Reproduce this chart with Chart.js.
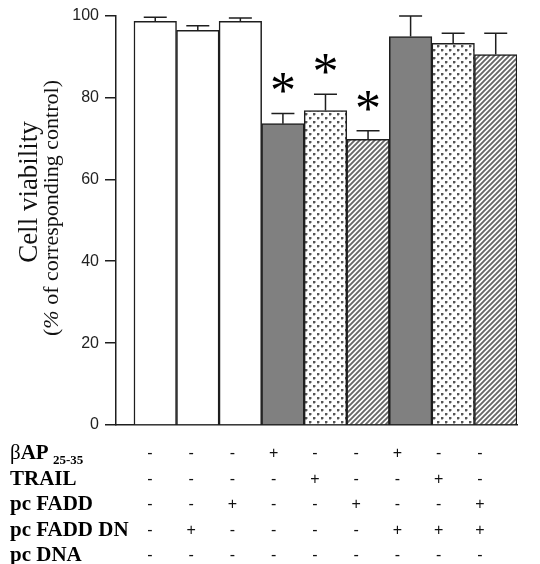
<!DOCTYPE html>
<html><head><meta charset="utf-8">
<script src="https://cdn.jsdelivr.net/npm/chart.js@4"></script>
<style>html,body{margin:0;padding:0;background:#fff}#wrap{width:540px;height:564px}</style>
</head><body><div id="wrap"><canvas id="c" width="540" height="564"></canvas></div>
<script>
// ---- data ----
const treatmentNames = ['βAP', 'TRAIL', 'pc FADD', 'pc FADD DN', 'pc DNA'];
const betaAP   = ['-','-','-','+','-','-','+','-','-'];
const trail    = ['-','-','-','-','+','-','-','+','-'];
const pcFADD   = ['-','-','+','-','-','+','-','-','+'];
const pcFADDDN = ['-','+','-','-','-','-','+','+','+'];
const pcDNA    = ['-','-','-','-','-','-','-','-','-'];
const viability = [98.6, 96.4, 98.6, 73.6, 76.8, 69.8, 94.9, 93.2, 90.5];
const sem       = [1.0, 1.1, 0.8, 2.5, 4.0, 2.1, 5.0, 2.5, 5.2];
const significant = [false, false, false, true, true, true, false, false, false];
const yTicks = [0, 20, 40, 60, 80, 100];

const tableRows = [betaAP, trail, pcFADD, pcFADDDN, pcDNA];

// ---- styles ----
function makeDots(){
  const s = 8;
  const c = document.createElement('canvas'); c.width = s; c.height = s;
  const g = c.getContext('2d');
  g.fillStyle = '#fff'; g.fillRect(0,0,s,s);
  g.fillStyle = '#555';
  g.fillRect(1,1,2,2); g.fillRect(5,5,2,2);
  g.fillStyle = '#b8b8b8';
  g.fillRect(3,1,1,2); g.fillRect(1,3,2,1); g.fillRect(7,5,1,2); g.fillRect(5,7,2,1);
  return g.createPattern(c,'repeat');
}
function makeHatch(){
  const s = 5;
  const c = document.createElement('canvas'); c.width = s; c.height = s;
  const g = c.getContext('2d');
  g.fillStyle = '#fff'; g.fillRect(0,0,s,s);
  g.strokeStyle = '#666'; g.lineWidth = 1.9;
  g.beginPath();
  g.moveTo(-1, s+1); g.lineTo(s+1, -1);
  g.moveTo(-1, 1); g.lineTo(1, -1);
  g.moveTo(s-1, s+1); g.lineTo(s+1, s-1);
  g.stroke();
  return g.createPattern(c,'repeat');
}
const dots = makeDots(), hatch = makeHatch();
const barFills = ['#ffffff','#ffffff','#ffffff','#808080',dots,hatch,'#808080',dots,hatch];

const ink = '#1e1e1e';

const errorBars = {
  id: 'errorBars',
  afterDatasetsDraw(chart){
    const ctx = chart.ctx, meta = chart.getDatasetMeta(0), y = chart.scales.y;
    ctx.save();
    ctx.strokeStyle = ink; ctx.lineWidth = 1.5;
    meta.data.forEach((bar, i) => {
      const top = y.getPixelForValue(viability[i] + sem[i]);
      ctx.beginPath();
      ctx.moveTo(bar.x, bar.y); ctx.lineTo(bar.x, top);
      ctx.moveTo(bar.x - 11.5, top); ctx.lineTo(bar.x + 11.5, top);
      ctx.stroke();
      if (significant[i]) {
        ctx.font = '52px "Liberation Serif"';
        ctx.textAlign = 'center'; ctx.textBaseline = 'alphabetic';
        ctx.fillStyle = '#000';
        ctx.fillText('*', bar.x, top - 5);
      }
    });
    ctx.restore();
  }
};

const annotations = {
  id: 'annotations',
  afterDraw(chart){
    const ctx = chart.ctx;
    ctx.save();
    // y title
    ctx.fillStyle = '#111';
    ctx.save();
    ctx.translate(37, 192); ctx.rotate(-Math.PI/2);
    ctx.textAlign = 'center'; ctx.textBaseline = 'alphabetic';
    ctx.font = '27px "Liberation Serif"';
    ctx.fillText('Cell viability', 0, 0);
    ctx.restore();
    ctx.save();
    ctx.translate(58, 208); ctx.rotate(-Math.PI/2);
    ctx.textBaseline = 'alphabetic'; ctx.textAlign = 'left';
    const f = '22px "Liberation Serif"', fi = 'italic 22px "Liberation Serif"';
    const parts = [['(', f], ['%', fi], [' of corresponding control)', f]];
    let total = 0;
    parts.forEach(p => { ctx.font = p[1]; total += ctx.measureText(p[0]).width; });
    let x = -total/2;
    parts.forEach(p => { ctx.font = p[1]; ctx.fillText(p[0], x, 0); x += ctx.measureText(p[0]).width; });
    ctx.restore();

    // table
    const baselines = [459, 485, 510, 536, 561];
    ctx.textBaseline = 'alphabetic';
    treatmentNames.forEach((name, r) => {
      const by = baselines[r];
      ctx.textAlign = 'left';
      ctx.fillStyle = '#000';
      if (r === 0) {
        ctx.font = '21px "Liberation Serif"';
        ctx.fillText('β', 10, by);
        let xx = 10 + ctx.measureText('β').width;
        ctx.font = 'bold 21px "Liberation Serif"';
        ctx.fillText('AP', xx, by);
        ctx.font = 'bold 13px "Liberation Serif"';
        ctx.fillText('25-35', 53, by + 5);
      } else {
        ctx.font = 'bold 21px "Liberation Serif"';
        ctx.fillText(name, 10, by);
      }
      ctx.font = '16px "Liberation Sans"';
      ctx.textAlign = 'center';
      ctx.fillStyle = '#111';
      tableRows[r].forEach((s, i) => {
        ctx.fillText(s, 150 + i * 41.25, by - 1);
      });
    });
    ctx.restore();
  }
};

new Chart(document.getElementById('c'), {
  type: 'bar',
  data: {
    datasets: [{
      data: viability.map((v, i) => ({ x: i, y: v })),
      backgroundColor: barFills,
      borderColor: ink,
      borderWidth: 1.5,
      borderSkipped: 'start',
      categoryPercentage: 1,
      barPercentage: 1
    }]
  },
  options: {
    responsive: false,
    animation: false,
    events: [],
    layout: { padding: { top: 15, right: 23, bottom: 139, left: 0 } },
    plugins: { legend: { display: false }, tooltip: { enabled: false } },
    scales: {
      x: {
        type: 'linear', min: -0.922, max: 8.5, offset: false,
        grid: { display: false, drawTicks: false },
        ticks: { display: false },
        border: { display: true, color: ink, width: 1.5 },
        afterFit(s){ s.height = 0; }
      },
      y: {
        min: 0, max: 100,
        afterBuildTicks(s){ s.ticks = yTicks.map(v => ({ value: v })); },
        ticks: { font: { family: 'Liberation Sans', size: 16 }, color: '#222', padding: 6 },
        grid: { drawOnChartArea: false, drawTicks: true, tickLength: 11, color: ink, lineWidth: 1.5 },
        border: { display: true, color: ink, width: 1.5 },
        afterFit(s){ s.width = 116; }
      }
    }
  },
  plugins: [errorBars, annotations]
});
</script>
</body></html>
